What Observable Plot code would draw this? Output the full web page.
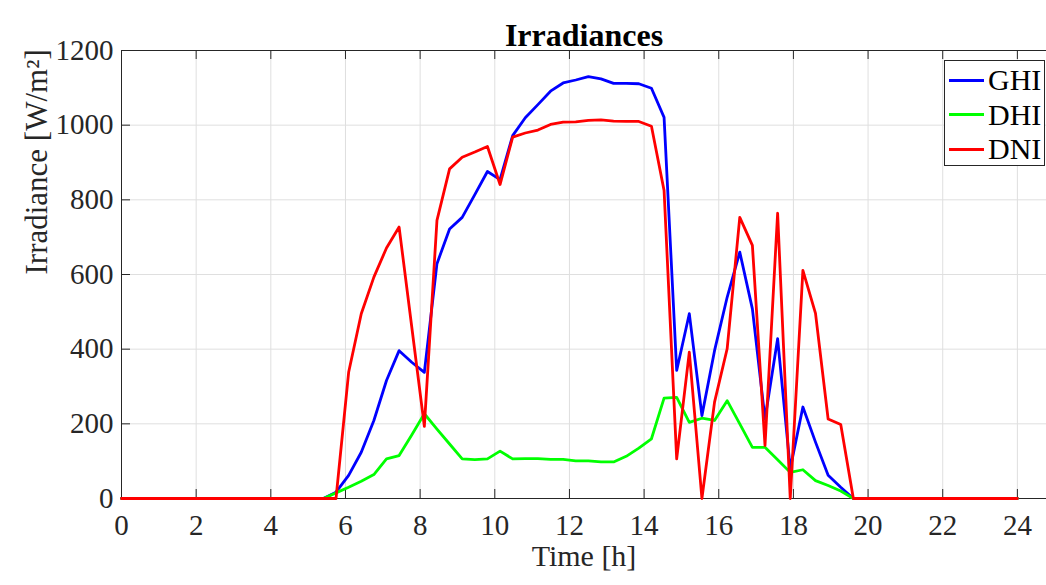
<!DOCTYPE html>
<html>
<head>
<meta charset="utf-8">
<script src="https://cdn.jsdelivr.net/npm/d3@7"></script>
<script src="https://cdn.jsdelivr.net/npm/@observablehq/plot@0.6"></script>
<style>
  html, body { margin: 0; padding: 0; background: #fff; }
  #wrap { position: relative; width: 1046px; height: 585px; overflow: hidden; }
  #chart svg text { font-family: "Liberation Serif", serif; }
  #legend {
    position: absolute; left: 944px; top: 60px; width: 101px; height: 106px;
    box-sizing: border-box; border: 1px solid #262626; background: #fff;
    font-family: "Liberation Serif", serif; font-size: 30px; color: #000;
    padding-top: 2px;
  }
  #legend .row { display: flex; align-items: center; height: 34.5px; }
  #legend .sw { width: 35px; height: 3px; margin-left: 4px; margin-right: 4px; }
  #legend .lb { line-height: 1; }
</style>
</head>
<body>
<div id="wrap"><div id="chart"></div><div id="legend"></div></div>
<script>
const titleText = "Irradiances";
const xLabelText = "Time [h]";
const yLabelText = "Irradiance [W/m²]";
const xTicks = [0, 2, 4, 6, 8, 10, 12, 14, 16, 18, 20, 22, 24];
const yTicks = [0, 200, 400, 600, 800, 1000, 1200];
const seriesNames = ["GHI", "DHI", "DNI"];
const seriesColors = ["#0000ff", "#00ff00", "#ff0000"];

const time = [0, 0.338, 0.676, 1.014, 1.352, 1.690, 2.028, 2.366, 2.704, 3.042, 3.380, 3.718,
  4.056, 4.394, 4.732, 5.070, 5.408, 5.746, 6.085, 6.423, 6.761, 7.099, 7.437, 7.775,
  8.113, 8.451, 8.789, 9.127, 9.465, 9.803, 10.141, 10.479, 10.817, 11.155, 11.493, 11.831,
  12.169, 12.507, 12.845, 13.183, 13.521, 13.859, 14.197, 14.535, 14.873, 15.211, 15.549, 15.887,
  16.225, 16.563, 16.901, 17.239, 17.577, 17.915, 18.254, 18.592, 18.930, 19.268, 19.606, 19.944,
  20.282, 20.620, 20.958, 21.296, 21.634, 21.972, 22.310, 22.648, 22.986, 23.324, 23.662, 24.000];

const ghi = [0, 0, 0, 0, 0, 0, 0, 0, 0, 0, 0, 0,
  0, 0, 0, 0, 0, 17, 62, 124, 209, 316, 396, 365,
  338, 629, 722, 753, 814, 876, 854, 972, 1020, 1055, 1091, 1113,
  1121, 1130, 1124, 1112, 1112, 1111, 1099, 1021, 343, 495, 222, 396,
  539, 660, 508, 213, 428, 80, 245, 151, 62, 30, 0, 0,
  0, 0, 0, 0, 0, 0, 0, 0, 0, 0, 0, 0];

const dhi = [0, 0, 0, 0, 0, 0, 0, 0, 0, 0, 0, 0,
  0, 0, 0, 0, 0, 15, 30, 46, 64, 106, 115, 170,
  227, 186, 146, 106, 104, 106, 127, 106, 107, 107, 105, 105,
  101, 101, 98, 98, 113, 135, 160, 269, 271, 204, 215, 209,
  262, 200, 137, 137, 104, 70, 77, 48, 35, 20, 0, 0,
  0, 0, 0, 0, 0, 0, 0, 0, 0, 0, 0, 0];

const dni = [0, 0, 0, 0, 0, 0, 0, 0, 0, 0, 0, 0,
  0, 0, 0, 0, 0, 0, 338, 495, 593, 671, 727, 460,
  193, 745, 883, 914, 928, 943, 841, 968, 979, 987, 1002, 1008,
  1009, 1013, 1014, 1011, 1010, 1010, 997, 825, 106, 392, 0, 258,
  401, 753, 678, 142, 764, 0, 611, 496, 213, 198, 0, 0,
  0, 0, 0, 0, 0, 0, 0, 0, 0, 0, 0, 0];

const seriesValues = [ghi, dhi, dni];
const rows = seriesValues.map(vals => time.map((t, i) => ({t, v: vals[i]})));

const W = 1046, H = 585, mL = 121, mR = 0, mT = 50, mB = 87;
const frameW = W - mL - mR, frameH = H - mT - mB;
const tickLen = 9;
const axisColor = "#262626";
const gridColor = "#dfdfdf";
const serif = '"Liberation Serif", serif';

const chart = Plot.plot({
  width: W, height: H,
  marginLeft: mL, marginRight: mR, marginTop: mT, marginBottom: mB,
  style: {fontFamily: serif, fontSize: "29px", color: axisColor, background: "white", overflow: "visible"},
  x: {domain: [0, 24.78]},
  y: {domain: [0, 1200]},
  marks: [
    Plot.gridX(xTicks, {stroke: gridColor, strokeOpacity: 1}),
    Plot.gridY(yTicks, {stroke: gridColor, strokeOpacity: 1}),
    Plot.ruleX([0], {stroke: axisColor}),
    Plot.ruleY([0], {stroke: axisColor}),
    Plot.ruleY([1200], {stroke: axisColor}),
    Plot.ruleX(xTicks, {x: d => d, insetTop: frameH - tickLen, stroke: axisColor}),
    Plot.ruleX(xTicks, {x: d => d, insetBottom: frameH - tickLen, stroke: axisColor}),
    Plot.ruleY(yTicks, {y: d => d, insetRight: frameW - tickLen, stroke: axisColor}),
    Plot.axisX({ticks: xTicks, tickSize: 0, tickPadding: 16, label: null, tickFormat: d => String(d), fontSize: 29, fontFamily: serif, fontVariant: "normal", fill: axisColor}),
    Plot.axisY({ticks: yTicks, tickSize: 0, tickPadding: 8, label: null, tickFormat: d => String(d), fontSize: 29, fontFamily: serif, fontVariant: "normal", fill: axisColor}),
    ...rows.map((r, i) => Plot.line(r, {x: "t", y: "v", stroke: seriesColors[i], strokeWidth: 2.8})),
    Plot.text([titleText], {frameAnchor: "top", dy: -27, fontWeight: "bold", fontSize: 32, fontFamily: serif, fill: "#000"}),
    Plot.text([xLabelText], {frameAnchor: "bottom", dy: 67, fontSize: 30, fontFamily: serif, fill: axisColor}),
    Plot.text([yLabelText], {frameAnchor: "left", dx: -84, rotate: -90, fontSize: 31, fontFamily: serif, fill: axisColor})
  ]
});
document.getElementById("chart").appendChild(chart);

const legend = document.getElementById("legend");
seriesNames.forEach((name, i) => {
  const row = document.createElement("div");
  row.className = "row";
  const sw = document.createElement("div");
  sw.className = "sw";
  sw.style.background = seriesColors[i];
  const lb = document.createElement("span");
  lb.className = "lb";
  lb.textContent = name;
  row.appendChild(sw);
  row.appendChild(lb);
  legend.appendChild(row);
});
</script>
</body>
</html>
